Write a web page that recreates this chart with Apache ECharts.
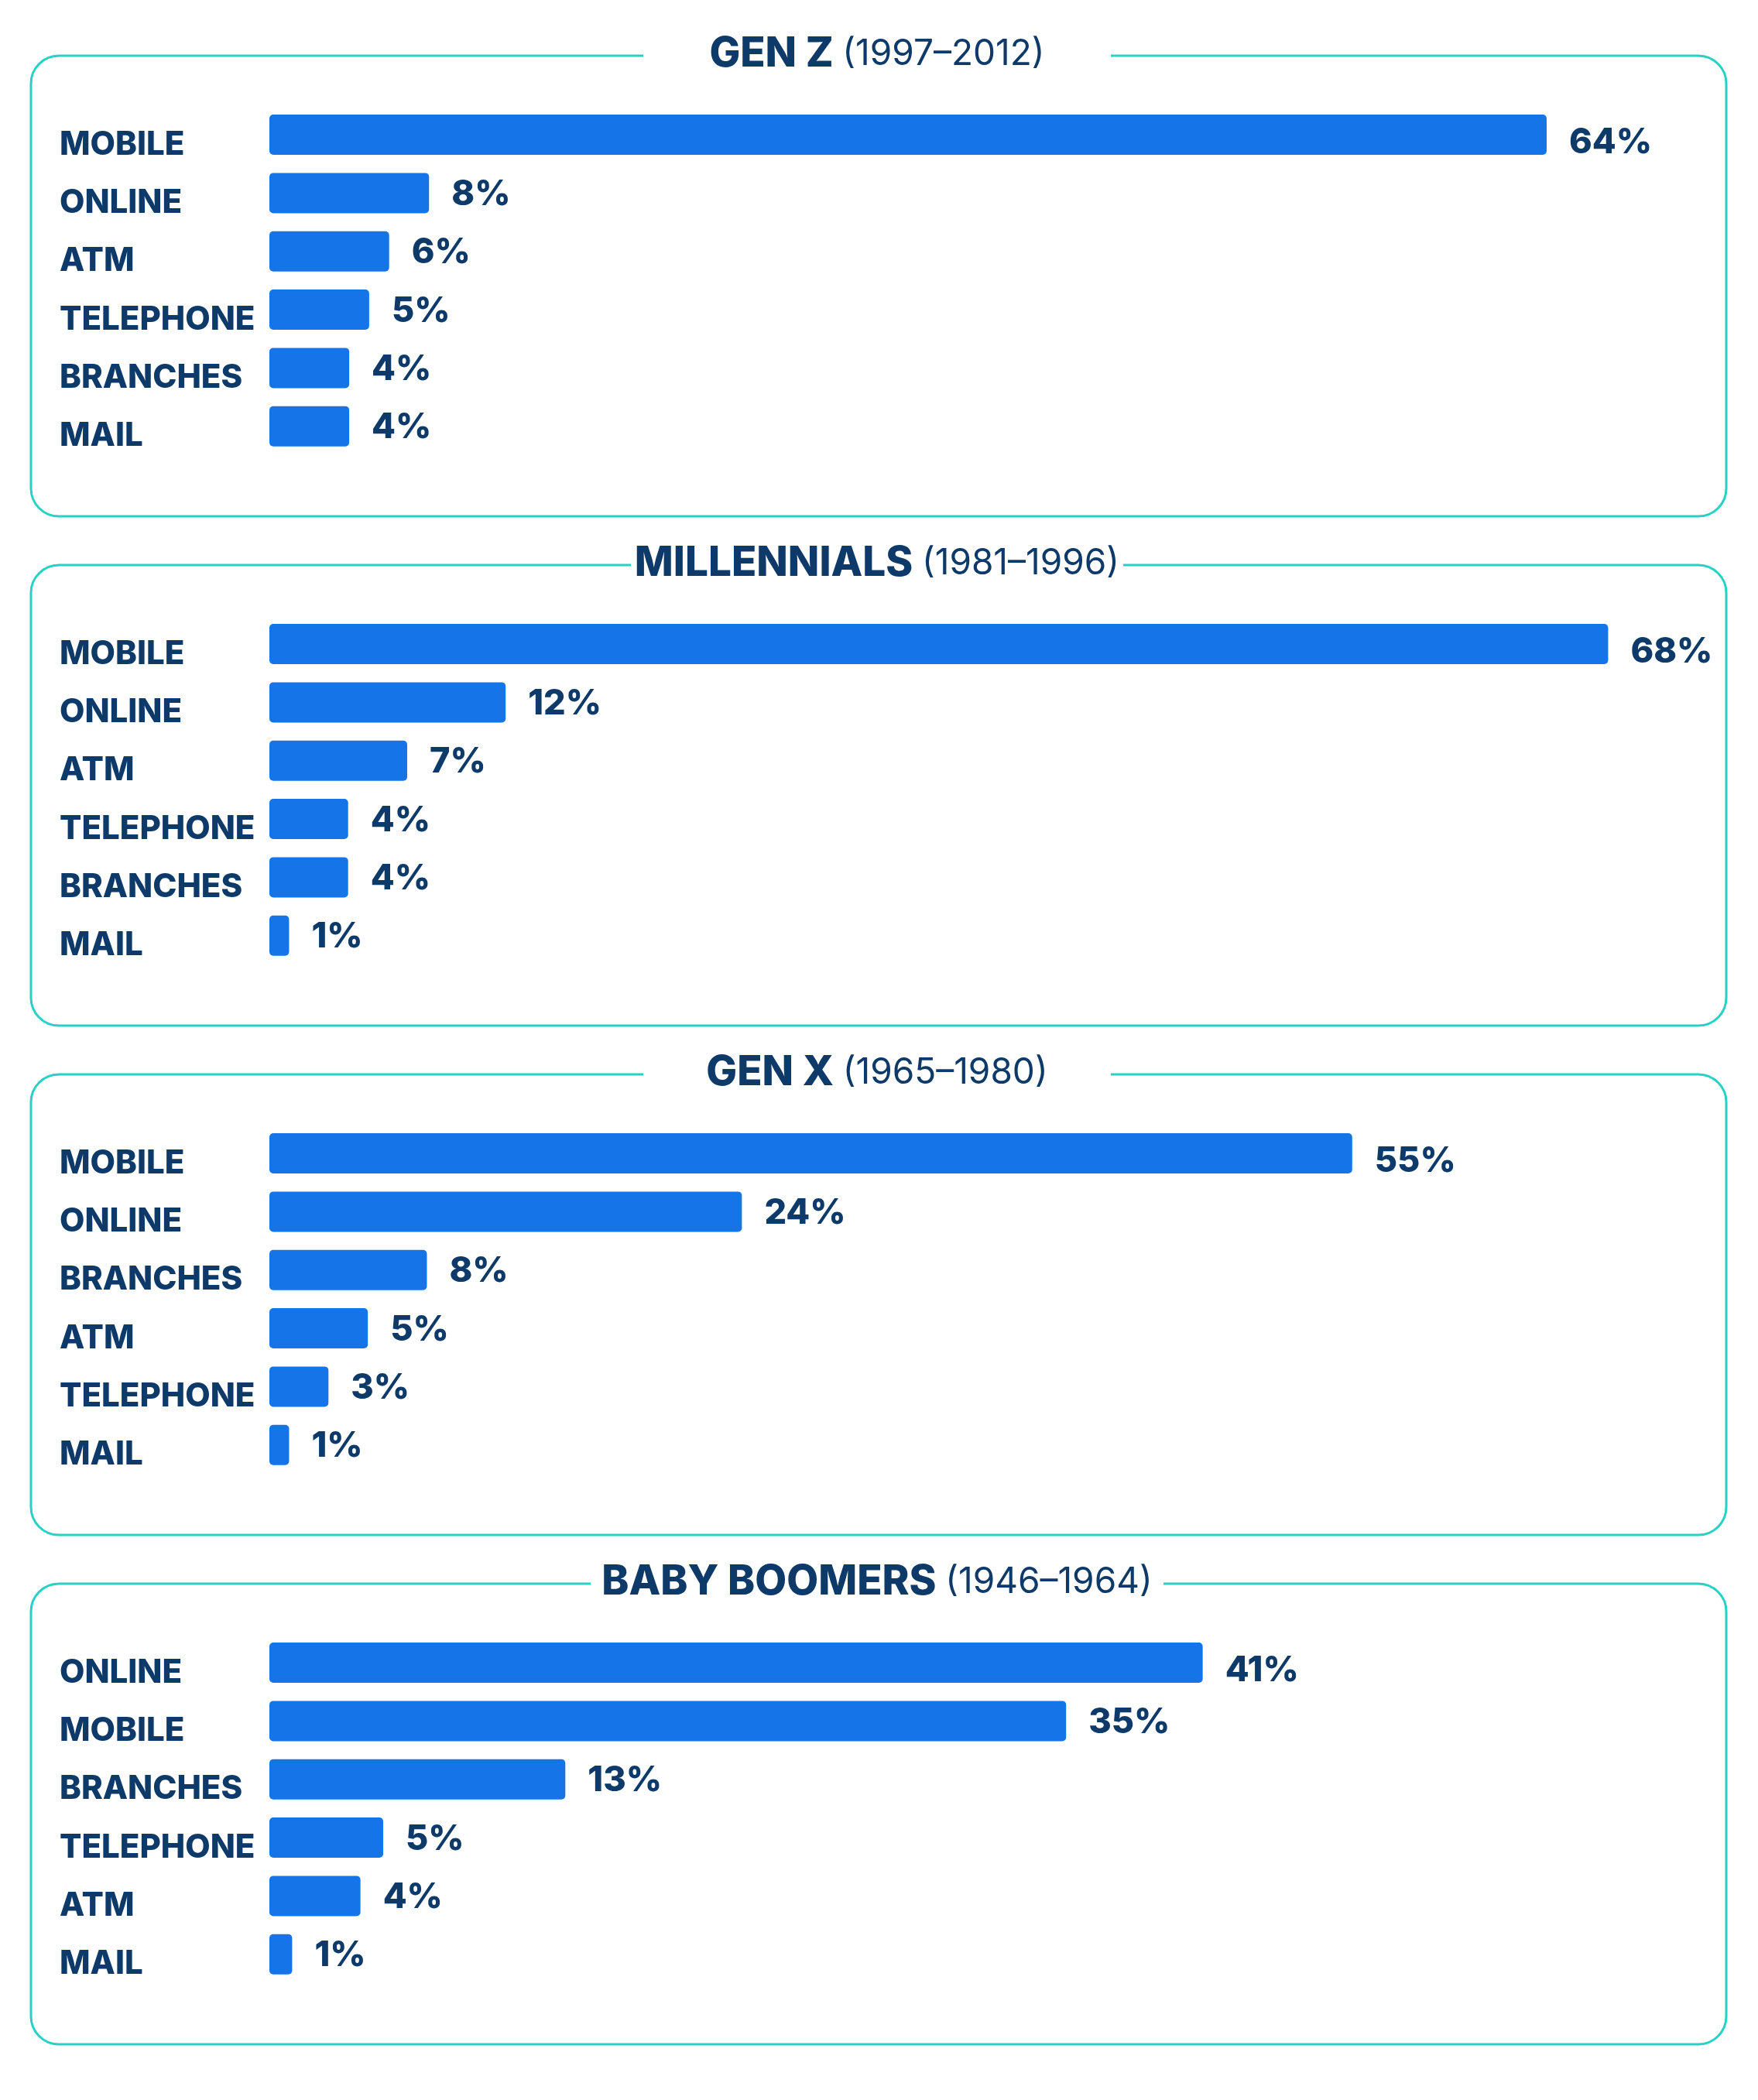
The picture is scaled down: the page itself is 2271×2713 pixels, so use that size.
<!DOCTYPE html>
<html>
<head>
<meta charset="utf-8">
<title>Banking channels by generation</title>
<script src="https://cdn.jsdelivr.net/npm/echarts@6/dist/echarts.min.js"></script>
<style>
  html, body { margin: 0; padding: 0; background: #fff; }
  #chart { width: 2271px; height: 2713px; }
</style>
</head>
<body>
<div id="chart"></div>
<script>
// values, one block per generation
var genZCategories = ['MOBILE', 'ONLINE', 'ATM', 'TELEPHONE', 'BRANCHES', 'MAIL'];
var genZValues = [64, 8, 6, 5, 4, 4];

var millennialCategories = ['MOBILE', 'ONLINE', 'ATM', 'TELEPHONE', 'BRANCHES', 'MAIL'];
var millennialValues = [68, 12, 7, 4, 4, 1];

var genXCategories = ['MOBILE', 'ONLINE', 'BRANCHES', 'ATM', 'TELEPHONE', 'MAIL'];
var genXValues = [55, 24, 8, 5, 3, 1];

var boomerCategories = ['ONLINE', 'MOBILE', 'BRANCHES', 'TELEPHONE', 'ATM', 'MAIL'];
var boomerValues = [41, 35, 13, 5, 4, 1];

var panelNames = ['GEN Z', 'MILLENNIALS', 'GEN X', 'BABY BOOMERS'];
var panelYears = ['(1997–2012)', '(1981–1996)', '(1965–1980)', '(1946–1964)'];

var panels = [
  { cats: genZCategories, vals: genZValues },
  { cats: millennialCategories, vals: millennialValues },
  { cats: genXCategories, vals: genXValues },
  { cats: boomerCategories, vals: boomerValues }
];

// look & layout
var NAVY = '#0e3a69';
var BLUE = '#1575e8';
var TEAL = '#27d1c4';
var FONT = 'Inter, "Noto Sans", sans-serif';

var boxLeft = 40, boxWidth = 2190, boxHeight = 595;
var boxTop0 = 72, boxStep = 658;
var titleCenter = 1133;
var gapWidths = [604, 636, 604, 740];
var axisMax = [73, 74, 74, 64];

var chart = echarts.init(document.getElementById('chart'));

var grids = [], xAxes = [], yAxes = [], series = [], graphics = [];

panels.forEach(function (p, i) {
  var top = boxTop0 + i * boxStep;

  // rounded frame with a white gap for the heading
  graphics.push({
    type: 'rect', z: 0,
    shape: { x: boxLeft, y: top, width: boxWidth, height: boxHeight, r: 36 },
    style: { fill: 'none', stroke: TEAL, lineWidth: 3 }
  });
  graphics.push({
    type: 'rect', z: 1,
    shape: { x: titleCenter - gapWidths[i] / 2, y: top - 8, width: gapWidths[i], height: 16 },
    style: { fill: '#fff' }
  });
  graphics.push({
    type: 'text', z: 2,
    x: titleCenter, y: top - 2,
    style: {
      text: '{b|' + panelNames[i] + ' }{r|' + panelYears[i] + '}',
      align: 'center',
      verticalAlign: 'middle',
      rich: {
        b: { fontSize: 53, fontWeight: 800, fill: NAVY, fontFamily: FONT },
        r: { fontSize: 46, fontWeight: 'normal', fill: NAVY, fontFamily: FONT }
      }
    }
  });

  grids.push({ left: 348, width: 1882, top: top + 64.4, height: 452 });

  xAxes.push({
    type: 'value', gridIndex: i, min: 0, max: axisMax[i], show: false
  });

  // labels sit a little low, their baseline near the bottom of the bar
  yAxes.push({
    type: 'category', gridIndex: i, data: p.cats, inverse: true,
    axisLine: { show: false },
    axisTick: { show: false },
    splitLine: { show: false },
    axisLabel: {
      align: 'left',
      verticalAlign: 'top',
      lineHeight: 26,
      margin: 271,
      fontSize: 42,
      fontWeight: 800,
      fontFamily: FONT,
      color: NAVY
    }
  });

  series.push({
    type: 'bar',
    xAxisIndex: i,
    yAxisIndex: i,
    barWidth: 52,
    itemStyle: { color: BLUE, borderRadius: 5 },
    label: {
      show: true,
      position: 'right',
      distance: 29,
      offset: [0, 2],
      formatter: '{c}%',
      fontSize: 45,
      fontWeight: 800,
      fontFamily: FONT,
      color: NAVY
    },
    data: p.vals.map(function (v, k) {
      return k === 0 ? { value: v, label: { offset: [0, 10] } } : v;
    })
  });
});

chart.setOption({
  animation: false,
  backgroundColor: '#fff',
  grid: grids,
  xAxis: xAxes,
  yAxis: yAxes,
  series: series,
  graphic: graphics
});

window.onresize = function () {
  chart.resize();
};
</script>
</body>
</html>
